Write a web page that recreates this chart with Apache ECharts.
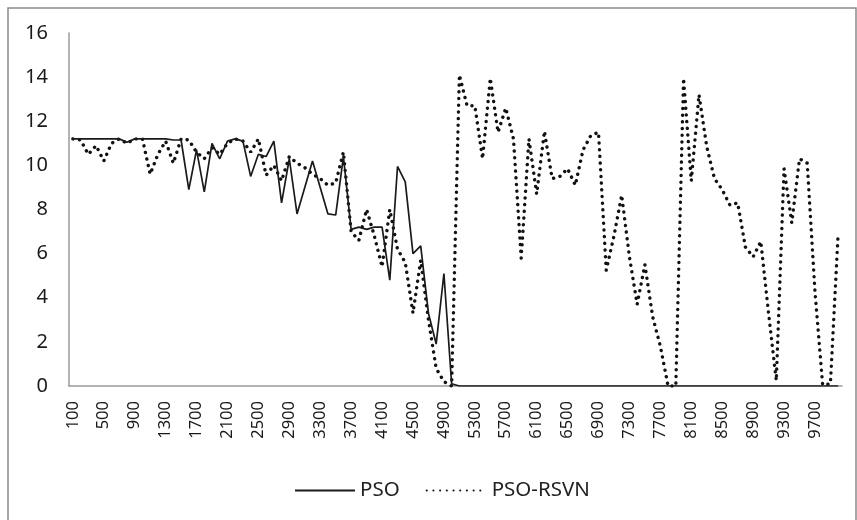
<!DOCTYPE html>
<html>
<head>
<meta charset="utf-8">
<script src="https://cdn.jsdelivr.net/npm/echarts@6/dist/echarts.min.js"></script>
<style>
  html, body { margin: 0; padding: 0; background: #fff; }
  #main { width: 857px; height: 520px; }
</style>
</head>
<body>
<div id="main"></div>
<script>
// x categories
var categories = ['100','200','300','400','500','600','700','800','900','1000',
  '1100','1200','1300','1400','1500','1600','1700','1800','1900','2000',
  '2100','2200','2300','2400','2500','2600','2700','2800','2900','3000',
  '3100','3200','3300','3400','3500','3600','3700','3800','3900','4000',
  '4100','4200','4300','4400','4500','4600','4700','4800','4900','5000',
  '5100','5200','5300','5400','5500','5600','5700','5800','5900','6000',
  '6100','6200','6300','6400','6500','6600','6700','6800','6900','7000',
  '7100','7200','7300','7400','7500','7600','7700','7800','7900','8000',
  '8100','8200','8300','8400','8500','8600','8700','8800','8900','9000',
  '9100','9200','9300','9400','9500','9600','9700','9800','9900','10000'];

var seriesNames = ['PSO', 'PSO-RSVN'];

// PSO (solid)
var psoValues = [11.2,11.2,11.2,11.2,11.2,11.2,11.2,11.05,11.2,11.2,
  11.2,11.2,11.2,11.15,11.15,8.9,10.7,8.8,11.0,10.3,
  11.1,11.2,11.1,9.5,10.5,10.4,11.1,8.3,10.3,7.8,
  9.0,10.2,9.0,7.8,7.75,10.4,7.1,7.2,7.1,7.2,
  7.2,4.8,9.95,9.25,6.0,6.35,3.3,1.9,5.1,0.1,
  0,0,0,0,0,0,0,0,0,0,
  0,0,0,0,0,0,0,0,0,0,
  0,0,0,0,0,0,0,0,0,0,
  0,0,0,0,0,0,0,0,0,0,
  0,0,0,0,0,0,0,0,0,0];

// PSO-RSVN (dotted)
var rsvnValues = [11.2,11.15,10.5,10.9,10.2,11.0,11.2,11.0,11.2,11.2,
  9.6,10.5,11.1,10.1,11.2,11.15,10.6,10.3,10.8,10.5,
  11.0,11.2,11.1,10.6,11.2,9.55,10.0,9.3,10.4,10.1,
  9.9,9.6,9.4,9.1,9.2,10.6,7.0,6.6,8.0,6.8,
  5.4,8.0,6.2,5.6,3.3,5.7,3.0,0.8,0.2,0,
  14.1,12.7,12.7,10.3,13.95,11.5,12.6,11.2,5.8,11.2,
  8.7,11.55,9.4,9.5,9.85,9.1,10.7,11.35,11.5,5.25,
  6.8,8.65,5.85,3.7,5.5,3.15,1.8,0,0,13.95,
  9.3,13.2,10.85,9.4,8.9,8.2,8.3,6.3,5.85,6.55,
  3.3,0.25,9.85,7.4,10.3,10.1,4.3,0.05,0.1,6.9];

var yMin = 0, yMax = 16, yStep = 2;

var myChart = echarts.init(document.getElementById('main'));
var font = 'Noto Sans';

var option = {
  animation: false,
  backgroundColor: '#fff',
  graphic: [{
    type: 'rect',
    shape: { x: 8, y: 8, width: 848, height: 530 },
    style: { fill: 'none', stroke: '#8a8a8a', lineWidth: 1.5 },
    silent: true
  }],
  grid: { left: 69, right: 15, top: 33, bottom: 134 },
  legend: {
    data: seriesNames,
    left: 289,
    top: 475,
    itemWidth: 60,
    itemHeight: 14,
    itemGap: 26,
    itemStyle: { opacity: 0 },
    textStyle: { fontFamily: font, fontSize: 20.5, color: '#222' }
  },
  xAxis: {
    type: 'category',
    data: categories,
    boundaryGap: true,
    axisLine: { lineStyle: { color: '#9a9a9a', width: 1.5 } },
    axisTick: { show: false },
    axisLabel: {
      interval: 3,
      rotate: 90,
      margin: 15,
      fontFamily: font,
      fontSize: 16.5,
      color: '#1a1a1a'
    }
  },
  yAxis: {
    type: 'value',
    min: yMin,
    max: yMax,
    interval: yStep,
    axisLine: { show: true, lineStyle: { color: '#9a9a9a', width: 1.5 } },
    axisTick: { show: false },
    splitLine: { show: false },
    axisLabel: { margin: 21, fontFamily: font, fontSize: 20, color: '#1a1a1a' }
  },
  series: [
    {
      name: seriesNames[0],
      type: 'line',
      data: psoValues,
      symbol: 'none',
      showSymbol: false,
      lineStyle: { color: '#1a1a1a', width: 1.7 },
      itemStyle: { color: '#1a1a1a' },
      z: 3
    },
    {
      name: seriesNames[1],
      type: 'line',
      data: rsvnValues,
      symbol: 'none',
      showSymbol: false,
      lineStyle: { color: '#111', width: 3.4, type: [0.1, 6.6], cap: 'round' },
      itemStyle: { color: '#111' },
      z: 2
    }
  ]
};

option && myChart.setOption(option);
</script>
</body>
</html>
